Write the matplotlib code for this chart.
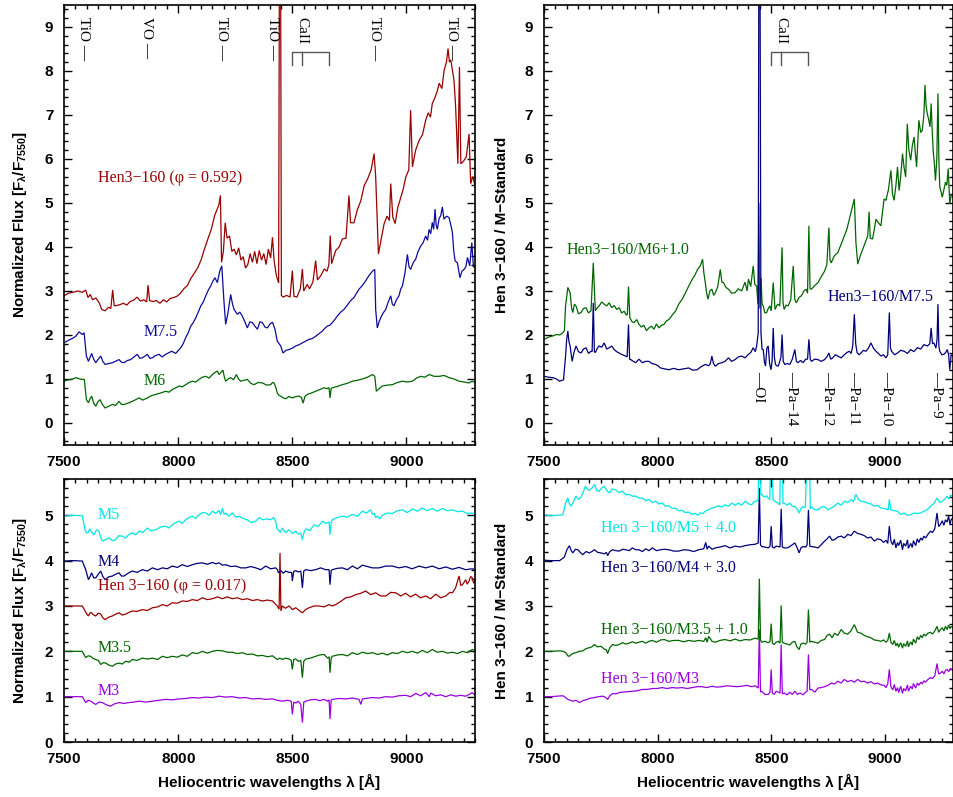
"""Hen 3-160 red spectra: standards (left) and ratios (right)."""
import numpy as np
import matplotlib
matplotlib.use("Agg")
import matplotlib.pyplot as plt
from matplotlib.ticker import FuncFormatter, MultipleLocator

RED = "#990000"
BLUE = "#0c0c9c"
NAVY = "#00007a"
GREEN = "#006600"
CYAN = "#00e6e6"
PURPLE = "#9a00dd"
GREY = "#555555"
SANS = "Liberation Sans"
SERIF = ["Liberation Serif", "DejaVu Serif"]

# ---- top left: Hen 3-160 (phi=0.592), M7.5, M6 --------------------------------
HEN_592 = [(7500,2.89),(7520,2.95),(7540,2.97),(7560,3.00),(7580,2.97),(7595,3.02),(7605,2.85),(7615,2.92),(7625,2.80),(7640,2.84),(7655,2.72),(7665,2.58),(7680,2.55),(7695,2.63),(7705,2.60),(7713,3.02),(7720,2.66),(7740,2.68),(7760,2.72),(7775,2.68),(7790,2.76),(7805,2.79),(7820,2.86),(7835,2.77),(7850,2.80),(7862,2.75),(7868,3.13),(7875,2.78),(7890,2.76),(7905,2.78),(7920,2.72),(7935,2.80),(7950,2.75),(7965,2.83),(7980,2.85),(7995,2.88),(8010,2.95),(8025,3.05),(8040,3.12),(8055,3.28),(8070,3.40),(8085,3.52),(8100,3.70),(8115,3.95),(8130,4.18),(8145,4.40),(8160,4.72),(8170,4.85),(8178,4.95),(8185,5.17),(8190,3.65),(8198,3.90),(8206,4.55),(8214,4.20),(8225,4.25),(8235,3.90),(8245,3.95),(8255,3.82),(8265,3.98),(8275,3.70),(8285,3.78),(8295,3.52),(8305,3.60),(8315,3.85),(8325,3.65),(8335,3.90),(8345,3.62),(8355,3.92),(8365,3.70),(8375,3.85),(8385,3.60),(8395,3.95),(8405,3.75),(8413,4.22),(8420,3.70),(8430,3.35),(8440,3.18),(8444,12.0),(8448,12.0),(8452,2.90),(8460,2.86),(8475,2.90),(8490,2.86),(8500,3.46),(8507,2.88),(8520,2.86),(8535,3.05),(8544,3.50),(8550,3.00),(8565,3.15),(8575,3.05),(8590,3.20),(8602,3.69),(8610,3.25),(8625,3.35),(8640,3.50),(8652,3.45),(8660,3.60),(8666,4.26),(8672,3.62),(8690,3.92),(8705,4.00),(8719,4.18),(8735,4.20),(8748,5.17),(8755,4.55),(8770,4.55),(8785,4.85),(8800,5.05),(8815,5.40),(8830,5.55),(8845,5.75),(8858,6.12),(8865,5.60),(8877,3.84),(8890,4.20),(8902,4.53),(8915,4.70),(8925,4.60),(8931,5.44),(8940,4.68),(8950,4.53),(8962,4.90),(8975,5.13),(8985,5.30),(8997,5.59),(9010,5.75),(9018,7.11),(9026,5.82),(9040,6.20),(9055,6.42),(9070,6.55),(9084,6.88),(9095,7.05),(9105,6.95),(9113,7.26),(9125,7.40),(9135,7.55),(9143,7.72),(9155,7.60),(9165,8.02),(9175,8.20),(9182,8.51),(9188,8.20),(9194,8.25),(9200,8.05),(9208,7.79),(9215,7.20),(9219,6.65),(9225,5.89),(9232,8.09),(9238,5.89),(9250,5.95),(9262,6.05),(9274,6.57),(9281,5.44),(9290,5.60),(9300,5.40)]

M75_STD = [(7500,1.82),(7520,1.88),(7540,1.93),(7551,1.97),(7566,2.07),(7580,2.01),(7588,2.05),(7598,1.52),(7607,1.40),(7621,1.58),(7630,1.45),(7639,1.37),(7650,1.45),(7661,1.52),(7670,1.40),(7680,1.33),(7695,1.35),(7712,1.37),(7725,1.40),(7741,1.44),(7752,1.38),(7763,1.37),(7778,1.42),(7792,1.44),(7806,1.50),(7821,1.56),(7832,1.47),(7843,1.48),(7855,1.52),(7865,1.56),(7876,1.47),(7887,1.48),(7900,1.53),(7916,1.56),(7930,1.50),(7945,1.56),(7960,1.60),(7972,1.63),(7989,1.58),(8011,1.71),(8022,1.80),(8033,1.94),(8044,2.05),(8055,2.20),(8066,2.28),(8077,2.39),(8088,2.52),(8099,2.66),(8110,2.75),(8121,2.89),(8132,3.02),(8142,3.11),(8152,3.22),(8161,3.30),(8172,3.19),(8182,3.45),(8191,3.57),(8200,2.80),(8208,2.24),(8218,2.50),(8230,2.92),(8238,2.70),(8245,2.58),(8259,2.47),(8270,2.52),(8281,2.43),(8292,2.30),(8303,2.16),(8314,2.30),(8325,2.28),(8336,2.20),(8347,2.13),(8358,2.30),(8369,2.28),(8380,2.18),(8391,2.16),(8402,2.25),(8413,2.29),(8424,2.13),(8434,1.86),(8442,1.80),(8449,1.75),(8459,1.59),(8472,1.65),(8486,1.67),(8500,1.70),(8515,1.75),(8530,1.78),(8544,1.82),(8558,1.86),(8573,1.90),(8588,1.92),(8602,1.97),(8617,2.03),(8632,2.09),(8642,2.15),(8653,2.20),(8664,2.22),(8675,2.28),(8686,2.35),(8697,2.43),(8712,2.52),(8726,2.58),(8737,2.65),(8748,2.73),(8759,2.80),(8770,2.85),(8781,2.95),(8792,3.04),(8806,3.12),(8821,3.23),(8836,3.35),(8851,3.45),(8861,3.49),(8865,2.58),(8872,2.16),(8880,2.30),(8887,2.39),(8898,2.50),(8909,2.58),(8920,2.75),(8931,2.89),(8938,2.70),(8945,2.66),(8956,2.80),(8967,2.89),(8975,3.05),(8982,3.11),(8993,3.40),(9004,3.83),(9011,3.55),(9018,3.49),(9030,3.65),(9040,3.72),(9051,3.90),(9062,4.02),(9073,4.10),(9084,4.25),(9092,4.15),(9099,4.40),(9106,4.30),(9113,4.56),(9119,4.40),(9125,4.86),(9130,4.50),(9135,4.40),(9143,4.65),(9150,4.71),(9157,4.91),(9164,4.63),(9175,4.70),(9186,4.67),(9194,4.50),(9201,4.33),(9207,3.90),(9213,3.68),(9223,3.64),(9229,3.45),(9234,3.30),(9243,3.45),(9252,3.49),(9260,3.55),(9267,3.76),(9277,3.57),(9286,4.10),(9293,3.55),(9300,3.53)]

M6_STD = [(7500,0.95),(7520,0.98),(7540,1.00),(7551,1.03),(7570,1.00),(7580,0.99),(7589,0.99),(7598,0.53),(7607,0.46),(7614,0.55),(7621,0.61),(7630,0.45),(7639,0.38),(7648,0.48),(7658,0.53),(7668,0.42),(7680,0.34),(7695,0.38),(7712,0.42),(7726,0.40),(7741,0.49),(7752,0.42),(7763,0.42),(7780,0.45),(7799,0.49),(7814,0.53),(7829,0.57),(7845,0.52),(7865,0.57),(7883,0.62),(7902,0.65),(7923,0.68),(7945,0.72),(7960,0.70),(7974,0.76),(7990,0.80),(8004,0.84),(8018,0.82),(8033,0.87),(8048,0.92),(8062,0.95),(8077,0.93),(8091,0.99),(8106,1.04),(8121,1.06),(8135,1.02),(8150,1.10),(8162,1.15),(8172,1.18),(8179,1.10),(8186,1.14),(8196,1.20),(8202,1.05),(8208,0.95),(8220,1.00),(8230,1.03),(8242,0.98),(8255,1.10),(8264,1.00),(8274,0.95),(8288,0.97),(8303,0.99),(8318,0.90),(8332,0.87),(8350,0.92),(8369,0.91),(8387,0.86),(8405,0.87),(8413,0.92),(8420,0.91),(8428,0.80),(8434,0.68),(8441,0.63),(8449,0.61),(8460,0.57),(8471,0.55),(8485,0.60),(8500,0.57),(8515,0.60),(8529,0.61),(8540,0.58),(8547,0.45),(8555,0.60),(8566,0.65),(8583,0.68),(8602,0.72),(8620,0.76),(8639,0.80),(8650,0.78),(8661,0.80),(8665,0.57),(8670,0.78),(8675,0.80),(8697,0.83),(8719,0.87),(8740,0.90),(8763,0.95),(8785,0.97),(8807,1.00),(8829,1.04),(8851,1.10),(8861,1.06),(8868,0.72),(8880,0.78),(8894,0.84),(8916,0.86),(8938,0.87),(8960,0.92),(8982,0.95),(9004,0.93),(9026,0.95),(9044,1.02),(9062,1.06),(9080,1.04),(9099,1.10),(9121,1.06),(9143,1.06),(9165,1.08),(9186,1.03),(9208,1.00),(9230,0.95),(9252,0.93),(9274,0.91),(9288,0.95),(9300,0.92)]

# ---- top right: ratios -------------------------------------------------------
RATIO_M6 = [(7500,1.90),(7520,1.95),(7540,1.98),(7554,2.01),(7570,2.00),(7583,2.05),(7590,2.10),(7595,2.66),(7605,3.08),(7615,2.96),(7622,2.60),(7627,2.51),(7634,2.70),(7641,2.66),(7652,2.48),(7663,2.51),(7674,2.60),(7685,2.62),(7696,2.50),(7707,2.55),(7717,3.64),(7726,2.55),(7735,2.62),(7743,2.66),(7754,2.75),(7765,2.70),(7776,2.66),(7787,2.73),(7798,2.62),(7809,2.67),(7820,2.58),(7831,2.62),(7842,2.50),(7853,2.54),(7862,2.45),(7867,2.47),(7872,3.10),(7878,2.39),(7888,2.30),(7897,2.28),(7908,2.35),(7918,2.24),(7929,2.18),(7940,2.22),(7951,2.10),(7962,2.16),(7973,2.20),(7984,2.13),(7995,2.25),(8006,2.16),(8017,2.22),(8028,2.24),(8039,2.32),(8050,2.35),(8064,2.45),(8079,2.54),(8093,2.70),(8108,2.81),(8122,2.95),(8137,3.11),(8151,3.25),(8166,3.38),(8177,3.50),(8188,3.57),(8198,3.72),(8204,3.40),(8210,3.19),(8216,2.95),(8222,2.81),(8230,3.00),(8239,3.04),(8247,2.90),(8254,2.96),(8265,3.10),(8276,3.49),(8283,3.20),(8290,3.19),(8301,3.08),(8312,3.04),(8326,2.95),(8341,2.96),(8355,3.05),(8370,3.00),(8385,3.20),(8394,3.00),(8400,3.27),(8410,3.10),(8421,3.57),(8428,3.15),(8436,3.11),(8442,2.70),(8446,5.00),(8450,2.60),(8455,3.30),(8460,2.70),(8465,2.66),(8472,2.50),(8480,2.51),(8487,2.60),(8494,2.66),(8500,2.55),(8509,3.19),(8517,2.58),(8528,2.70),(8538,2.66),(8548,3.99),(8552,2.75),(8557,2.58),(8566,2.68),(8575,2.66),(8586,2.80),(8597,3.57),(8604,2.80),(8611,2.73),(8622,2.85),(8633,2.89),(8644,3.00),(8655,3.04),(8660,2.95),(8666,4.48),(8671,3.05),(8677,3.04),(8691,3.12),(8706,3.19),(8720,3.32),(8735,3.45),(8745,3.60),(8754,4.44),(8759,3.70),(8764,3.64),(8778,3.80),(8793,3.87),(8807,4.05),(8822,4.25),(8833,4.40),(8844,4.63),(8852,4.80),(8859,4.94),(8866,5.09),(8870,4.50),(8873,4.10),(8881,3.61),(8892,3.80),(8903,3.95),(8914,4.10),(8925,4.25),(8931,4.80),(8936,4.20),(8946,4.18),(8954,4.40),(8961,4.63),(8972,4.55),(8983,4.48),(8990,4.80),(8997,5.09),(9005,5.06),(9016,5.30),(9027,5.74),(9034,5.20),(9041,5.06),(9049,5.40),(9056,5.82),(9063,5.28),(9070,5.60),(9078,6.12),(9085,5.80),(9092,5.59),(9099,6.80),(9106,6.20),(9114,5.97),(9121,6.30),(9129,6.50),(9135,6.10),(9140,5.82),(9150,6.88),(9158,6.60),(9165,6.65),(9172,7.00),(9177,7.68),(9182,7.20),(9187,7.03),(9193,6.90),(9199,6.73),(9204,7.26),(9209,6.60),(9213,6.19),(9218,5.90),(9223,5.51),(9229,6.00),(9234,7.49),(9238,6.00),(9242,5.36),(9248,5.25),(9253,5.13),(9260,5.30),(9267,5.47),(9273,5.40),(9279,5.78),(9286,4.98),(9293,5.20),(9300,5.13)]

RATIO_M75 = [(7500,1.06),(7520,1.04),(7539,1.03),(7555,1.00),(7568,0.95),(7580,0.97),(7586,0.98),(7595,1.52),(7600,1.90),(7605,2.09),(7610,1.85),(7615,1.75),(7624,1.40),(7632,1.60),(7641,1.75),(7652,1.62),(7663,1.59),(7674,1.68),(7685,1.71),(7696,1.58),(7707,1.63),(7712,1.62),(7717,2.73),(7722,1.62),(7726,1.60),(7735,1.70),(7743,1.75),(7754,1.72),(7765,1.82),(7776,1.68),(7787,1.71),(7798,1.75),(7809,1.67),(7820,1.62),(7831,1.59),(7845,1.55),(7860,1.52),(7866,1.50),(7872,2.24),(7877,1.45),(7882,1.44),(7893,1.40),(7904,1.37),(7918,1.45),(7933,1.37),(7948,1.40),(7962,1.40),(7976,1.35),(7991,1.33),(8002,1.30),(8013,1.25),(8030,1.23),(8050,1.21),(8070,1.24),(8093,1.21),(8115,1.23),(8137,1.25),(8155,1.20),(8174,1.21),(8192,1.28),(8210,1.33),(8225,1.30),(8232,1.35),(8239,1.52),(8246,1.35),(8254,1.29),(8268,1.35),(8283,1.37),(8297,1.40),(8312,1.48),(8326,1.40),(8341,1.44),(8355,1.50),(8370,1.52),(8385,1.48),(8400,1.56),(8410,1.60),(8421,1.71),(8430,1.62),(8436,1.75),(8443,2.05),(8446,12.0),(8450,12.0),(8455,2.05),(8460,1.67),(8465,1.67),(8470,1.40),(8475,1.29),(8481,1.70),(8487,1.75),(8493,1.35),(8499,1.21),(8504,1.40),(8509,2.16),(8514,1.50),(8519,1.33),(8525,1.30),(8531,1.29),(8538,1.40),(8543,1.50),(8548,2.01),(8553,1.40),(8560,1.33),(8571,1.35),(8582,1.33),(8593,1.45),(8604,1.67),(8611,1.40),(8618,1.37),(8629,1.42),(8640,1.37),(8652,1.45),(8660,1.45),(8666,1.90),(8672,1.45),(8677,1.40),(8692,1.45),(8706,1.44),(8720,1.40),(8735,1.44),(8745,1.50),(8754,1.59),(8762,1.45),(8771,1.48),(8782,1.55),(8793,1.52),(8808,1.48),(8822,1.55),(8833,1.60),(8844,1.63),(8852,1.58),(8859,1.75),(8866,2.47),(8872,1.80),(8878,1.60),(8887,1.55),(8895,1.59),(8906,1.65),(8917,1.63),(8928,1.70),(8939,1.82),(8950,1.70),(8961,1.63),(8972,1.58),(8983,1.52),(8994,1.55),(9005,1.48),(9013,1.55),(9020,2.51),(9025,1.70),(9030,1.63),(9043,1.55),(9056,1.59),(9070,1.65),(9085,1.63),(9100,1.58),(9114,1.67),(9128,1.62),(9143,1.71),(9158,1.68),(9172,1.78),(9188,1.75),(9198,1.80),(9204,2.16),(9210,1.80),(9216,1.82),(9225,1.70),(9230,1.90),(9234,2.70),(9238,1.75),(9242,1.63),(9251,1.55),(9260,1.56),(9268,1.60),(9275,1.67),(9281,1.55),(9286,1.21),(9292,1.55),(9300,1.52)]

# ---- bottom left: Hen 3-160 (phi=0.017) and M3-M5 standards --------------------
M5_STD = [(7500,4.98),(7540,5.00),(7580,4.99),(7592,4.68),(7599,4.61),(7606,4.62),(7612,4.70),(7622,4.62),(7631,4.57),(7642,4.68),(7653,4.65),(7660,4.52),(7668,4.43),(7680,4.46),(7697,4.50),(7712,4.44),(7726,4.46),(7740,4.55),(7756,4.54),(7770,4.50),(7785,4.58),(7799,4.61),(7814,4.57),(7829,4.65),(7845,4.62),(7865,4.72),(7880,4.66),(7902,4.68),(7923,4.74),(7945,4.76),(7960,4.72),(7974,4.79),(7990,4.84),(8004,4.87),(8018,4.82),(8033,4.90),(8048,4.95),(8062,4.98),(8077,4.93),(8091,5.01),(8106,5.06),(8121,5.05),(8135,5.00),(8150,5.09),(8165,5.04),(8179,5.11),(8186,5.01),(8194,5.16),(8201,5.02),(8208,5.05),(8222,4.98),(8237,5.05),(8252,4.96),(8267,4.98),(8285,4.93),(8303,4.90),(8320,4.84),(8340,4.87),(8355,4.95),(8369,4.90),(8387,4.92),(8405,4.90),(8418,4.95),(8427,4.87),(8433,4.70),(8439,4.68),(8447,4.62),(8456,4.72),(8470,4.62),(8486,4.68),(8500,4.60),(8515,4.65),(8526,4.58),(8537,4.61),(8544,4.46),(8551,4.62),(8559,4.70),(8577,4.66),(8595,4.79),(8613,4.75),(8632,4.87),(8647,4.82),(8661,4.85),(8665,4.57),(8670,4.85),(8675,4.90),(8697,4.95),(8719,4.98),(8741,4.96),(8763,5.02),(8785,4.98),(8807,5.09),(8825,5.05),(8843,5.12),(8851,5.02),(8858,5.05),(8865,4.95),(8872,4.98),(8883,4.92),(8894,5.00),(8916,5.05),(8938,5.04),(8960,5.10),(8982,5.12),(9004,5.06),(9026,5.14),(9048,5.09),(9069,5.16),(9091,5.10),(9113,5.15),(9135,5.09),(9157,5.15),(9179,5.10),(9201,5.12),(9223,5.08),(9245,5.09),(9266,5.04),(9288,5.05),(9300,5.02)]

M4_STD = [(7500,3.99),(7540,4.00),(7580,3.99),(7595,3.80),(7607,3.58),(7614,3.65),(7621,3.73),(7630,3.62),(7639,3.62),(7650,3.70),(7661,3.77),(7670,3.65),(7680,3.58),(7695,3.64),(7712,3.66),(7726,3.70),(7741,3.73),(7752,3.66),(7763,3.66),(7780,3.72),(7799,3.77),(7820,3.74),(7843,3.80),(7865,3.77),(7887,3.84),(7910,3.80),(7931,3.84),(7952,3.82),(7974,3.88),(7996,3.85),(8018,3.91),(8040,3.87),(8062,3.91),(8084,3.94),(8106,3.95),(8128,3.92),(8150,3.96),(8165,3.93),(8179,3.95),(8194,3.90),(8208,3.91),(8230,3.87),(8252,3.88),(8274,3.84),(8296,3.84),(8318,3.87),(8340,3.84),(8362,3.80),(8383,3.88),(8405,3.82),(8427,3.84),(8435,3.80),(8439,3.73),(8450,3.78),(8460,3.72),(8471,3.77),(8485,3.74),(8497,3.74),(8500,3.55),(8506,3.76),(8515,3.78),(8526,3.75),(8537,3.77),(8544,3.40),(8550,3.77),(8559,3.80),(8580,3.78),(8602,3.80),(8624,3.84),(8646,3.80),(8661,3.80),(8665,3.47),(8670,3.78),(8675,3.80),(8697,3.83),(8719,3.84),(8741,3.80),(8763,3.88),(8785,3.82),(8807,3.90),(8821,3.88),(8850,3.84),(8880,3.84),(8909,3.88),(8938,3.88),(8967,3.84),(8996,3.87),(9025,3.82),(9055,3.88),(9084,3.84),(9113,3.88),(9143,3.82),(9172,3.86),(9201,3.81),(9230,3.85),(9259,3.80),(9288,3.82),(9300,3.80)]

HEN_017 = [(7500,3.00),(7540,3.00),(7580,3.00),(7592,2.89),(7600,2.82),(7607,2.78),(7614,2.85),(7621,2.85),(7630,2.80),(7639,2.78),(7650,2.84),(7661,2.82),(7670,2.74),(7680,2.70),(7695,2.75),(7712,2.78),(7726,2.82),(7741,2.85),(7755,2.80),(7770,2.82),(7785,2.86),(7799,2.89),(7820,2.88),(7843,2.92),(7865,2.90),(7887,2.96),(7910,2.98),(7931,3.03),(7952,3.00),(7974,3.07),(7996,3.06),(8018,3.11),(8040,3.10),(8062,3.14),(8084,3.12),(8106,3.18),(8128,3.14),(8150,3.16),(8172,3.20),(8194,3.16),(8215,3.20),(8237,3.16),(8259,3.18),(8281,3.14),(8303,3.16),(8325,3.12),(8347,3.14),(8369,3.11),(8391,3.13),(8413,3.11),(8425,3.05),(8434,3.00),(8442,2.93),(8446,4.17),(8450,2.89),(8456,3.00),(8470,2.95),(8486,3.00),(8500,2.92),(8515,2.96),(8530,2.90),(8544,2.85),(8558,2.92),(8573,2.96),(8595,3.00),(8617,3.00),(8639,2.98),(8661,3.03),(8675,3.00),(8690,3.03),(8712,3.10),(8734,3.18),(8756,3.20),(8778,3.25),(8800,3.28),(8821,3.33),(8843,3.25),(8865,3.29),(8887,3.22),(8909,3.22),(8931,3.30),(8953,3.29),(8975,3.22),(8996,3.28),(9018,3.20),(9040,3.26),(9062,3.18),(9084,3.22),(9106,3.16),(9128,3.26),(9150,3.18),(9172,3.22),(9190,3.30),(9201,3.29),(9215,3.40),(9230,3.66),(9238,3.45),(9245,3.47),(9252,3.52),(9259,3.58),(9266,3.48),(9274,3.55),(9281,3.65),(9288,3.62),(9294,3.50),(9300,3.55)]

M35_STD = [(7500,2.00),(7540,2.00),(7580,2.00),(7595,1.86),(7606,1.90),(7617,1.89),(7628,1.84),(7639,1.82),(7650,1.80),(7661,1.71),(7672,1.75),(7683,1.74),(7695,1.70),(7712,1.67),(7726,1.72),(7741,1.74),(7755,1.72),(7770,1.78),(7785,1.76),(7799,1.82),(7820,1.80),(7843,1.85),(7865,1.83),(7887,1.85),(7910,1.82),(7931,1.89),(7952,1.86),(7974,1.89),(7996,1.87),(8018,1.92),(8040,1.89),(8062,1.97),(8084,1.95),(8106,2.00),(8128,1.96),(8150,2.00),(8172,2.02),(8194,2.01),(8215,1.98),(8237,1.98),(8259,1.95),(8281,1.97),(8303,1.93),(8325,1.94),(8347,1.90),(8369,1.91),(8391,1.88),(8413,1.90),(8434,1.82),(8445,1.85),(8456,1.82),(8470,1.85),(8486,1.83),(8495,1.80),(8500,1.60),(8506,1.82),(8515,1.83),(8526,1.78),(8537,1.80),(8544,1.42),(8550,1.78),(8559,1.83),(8580,1.85),(8602,1.89),(8620,1.92),(8639,1.93),(8655,1.85),(8661,1.88),(8665,1.53),(8670,1.85),(8675,1.89),(8697,1.92),(8719,1.93),(8741,1.90),(8763,1.97),(8785,1.93),(8807,1.98),(8829,1.95),(8851,1.97),(8873,1.93),(8894,1.96),(8916,1.92),(8938,1.97),(8960,1.95),(8982,2.00),(9004,1.97),(9026,2.00),(9048,1.96),(9069,2.02),(9091,1.97),(9113,2.04),(9135,1.98),(9157,2.00),(9179,1.96),(9201,1.98),(9223,1.95),(9245,2.00),(9266,1.97),(9288,2.04),(9300,2.02)]

M3_STD = [(7500,1.00),(7540,1.00),(7580,1.00),(7595,0.87),(7606,0.92),(7617,0.90),(7628,0.86),(7639,0.83),(7653,0.88),(7668,0.87),(7685,0.82),(7704,0.79),(7720,0.84),(7741,0.87),(7762,0.85),(7785,0.87),(7805,0.88),(7829,0.90),(7858,0.88),(7887,0.90),(7915,0.92),(7945,0.94),(7975,0.93),(8004,0.95),(8033,0.96),(8062,0.98),(8092,0.97),(8121,0.99),(8150,0.98),(8179,1.01),(8208,0.99),(8237,1.00),(8266,0.97),(8296,0.98),(8325,0.95),(8354,0.96),(8383,0.94),(8413,0.95),(8434,0.92),(8456,0.90),(8478,0.92),(8495,0.90),(8500,0.61),(8506,0.88),(8515,0.86),(8526,0.90),(8537,0.83),(8544,0.43),(8550,0.88),(8559,0.90),(8580,0.93),(8602,0.94),(8620,0.91),(8639,0.94),(8655,0.90),(8661,0.93),(8665,0.51),(8670,0.92),(8675,0.94),(8704,0.96),(8734,0.95),(8763,0.97),(8792,0.94),(8800,0.83),(8807,0.95),(8821,0.96),(8850,0.98),(8880,0.97),(8909,1.00),(8938,0.99),(8967,1.02),(8996,1.03),(9018,1.00),(9040,1.07),(9062,1.02),(9084,1.09),(9100,1.00),(9106,1.08),(9128,1.02),(9150,1.04),(9172,1.00),(9194,1.04),(9216,1.01),(9237,1.03),(9259,1.01),(9275,1.05),(9288,1.09),(9300,1.03)]

# ---- bottom right: ratios to M3-M5 --------------------------------------------
RATIO_M5 = [(7500,5.01),(7530,4.99),(7554,5.00),(7583,5.01),(7595,5.27),(7605,5.38),(7612,5.25),(7620,5.20),(7630,5.30),(7641,5.42),(7652,5.35),(7663,5.40),(7672,5.50),(7682,5.64),(7690,5.58),(7700,5.55),(7711,5.60),(7722,5.68),(7732,5.55),(7743,5.53),(7754,5.60),(7765,5.64),(7776,5.55),(7787,5.49),(7800,5.58),(7816,5.56),(7830,5.50),(7846,5.53),(7860,5.45),(7875,5.46),(7890,5.42),(7904,5.42),(7918,5.38),(7933,5.38),(7948,5.32),(7962,5.35),(7976,5.28),(7991,5.31),(8005,5.25),(8020,5.27),(8035,5.20),(8050,5.21),(8064,5.15),(8079,5.16),(8093,5.10),(8108,5.11),(8122,5.06),(8137,5.07),(8152,5.02),(8166,5.04),(8177,5.00),(8188,5.05),(8199,5.04),(8210,5.09),(8225,5.12),(8239,5.16),(8254,5.18),(8268,5.21),(8283,5.18),(8297,5.23),(8312,5.20),(8327,5.27),(8341,5.22),(8356,5.27),(8370,5.22),(8385,5.31),(8400,5.25),(8414,5.23),(8425,5.30),(8436,5.31),(8443,5.35),(8447,7.0),(8451,7.0),(8455,5.45),(8458,5.46),(8470,5.40),(8480,5.43),(8487,5.38),(8494,5.35),(8499,7.0),(8503,7.0),(8508,5.35),(8516,5.31),(8527,5.28),(8538,5.23),(8543,7.0),(8547,7.0),(8552,5.26),(8557,5.27),(8570,5.22),(8582,5.27),(8593,5.20),(8604,5.19),(8613,5.15),(8623,5.05),(8631,5.15),(8640,5.19),(8650,5.17),(8663,7.0),(8667,7.0),(8672,5.14),(8677,5.19),(8692,5.12),(8706,5.12),(8720,5.18),(8735,5.19),(8750,5.12),(8764,5.16),(8778,5.20),(8793,5.27),(8808,5.22),(8822,5.31),(8837,5.28),(8852,5.35),(8862,5.30),(8873,5.46),(8884,5.35),(8895,5.31),(8910,5.30),(8924,5.27),(8939,5.25),(8954,5.20),(8968,5.22),(8983,5.16),(9000,5.15),(9015,5.12),(9020,5.35),(9027,5.12),(9042,5.10),(9056,5.09),(9070,5.02),(9085,5.05),(9100,5.00),(9114,5.01),(9128,5.05),(9143,5.04),(9158,5.05),(9172,5.09),(9186,5.12),(9201,5.20),(9215,5.25),(9230,5.38),(9242,5.28),(9253,5.31),(9263,5.35),(9274,5.42),(9282,5.36),(9289,5.45),(9300,5.40)]

RATIO_M4 = [(7500,4.01),(7530,4.00),(7569,4.00),(7590,4.08),(7601,4.24),(7612,4.33),(7620,4.22),(7627,4.17),(7638,4.25),(7649,4.24),(7660,4.18),(7671,4.13),(7685,4.20),(7700,4.17),(7711,4.20),(7722,4.24),(7737,4.18),(7751,4.17),(7765,4.15),(7775,4.18),(7780,4.11),(7790,4.20),(7802,4.24),(7816,4.22),(7831,4.21),(7846,4.25),(7860,4.24),(7875,4.22),(7889,4.28),(7904,4.24),(7918,4.24),(7933,4.20),(7948,4.26),(7962,4.22),(7977,4.28),(7995,4.22),(8013,4.24),(8030,4.25),(8050,4.24),(8071,4.21),(8093,4.21),(8115,4.24),(8137,4.23),(8159,4.20),(8181,4.24),(8203,4.26),(8212,4.40),(8218,4.25),(8225,4.32),(8240,4.25),(8254,4.28),(8275,4.30),(8297,4.33),(8319,4.28),(8341,4.32),(8363,4.30),(8385,4.33),(8407,4.35),(8429,4.36),(8443,4.39),(8448,5.60),(8453,4.35),(8458,4.31),(8472,4.30),(8487,4.28),(8495,4.32),(8500,4.76),(8505,4.30),(8513,4.28),(8522,4.32),(8531,4.31),(8539,4.30),(8544,5.14),(8549,4.30),(8557,4.28),(8570,4.28),(8582,4.31),(8593,4.35),(8604,4.39),(8613,4.30),(8623,4.17),(8631,4.28),(8640,4.31),(8652,4.30),(8658,4.35),(8664,5.12),(8670,4.32),(8677,4.31),(8692,4.30),(8706,4.28),(8720,4.35),(8735,4.43),(8746,4.48),(8757,4.54),(8768,4.45),(8779,4.46),(8793,4.52),(8808,4.54),(8822,4.50),(8837,4.58),(8851,4.55),(8866,4.65),(8880,4.60),(8895,4.58),(8910,4.55),(8924,4.50),(8939,4.52),(8954,4.43),(8968,4.48),(8983,4.46),(8995,4.40),(9005,4.45),(9013,4.38),(9020,4.76),(9027,4.43),(9035,4.35),(9042,4.47),(9049,4.28),(9056,4.40),(9061,4.33),(9070,4.45),(9078,4.24),(9083,4.38),(9092,4.32),(9100,4.46),(9104,4.27),(9114,4.38),(9121,4.29),(9126,4.44),(9136,4.33),(9143,4.48),(9150,4.40),(9158,4.50),(9165,4.45),(9172,4.54),(9180,4.50),(9190,4.58),(9201,4.65),(9210,4.62),(9220,4.70),(9230,5.05),(9237,4.75),(9245,4.80),(9253,4.88),(9260,4.78),(9267,4.90),(9274,4.85),(9281,4.98),(9287,4.80),(9292,4.90),(9300,4.95)]

RATIO_M35 = [(7500,2.00),(7530,2.00),(7569,2.01),(7585,2.00),(7598,1.96),(7605,1.90),(7612,1.89),(7620,1.93),(7630,1.96),(7641,1.97),(7655,2.00),(7671,2.01),(7685,2.06),(7700,2.08),(7711,2.10),(7722,2.15),(7735,2.10),(7751,2.11),(7765,2.05),(7775,2.03),(7780,1.95),(7790,2.08),(7802,2.15),(7816,2.13),(7831,2.15),(7846,2.19),(7860,2.16),(7875,2.18),(7889,2.21),(7904,2.18),(7918,2.20),(7933,2.22),(7948,2.18),(7962,2.22),(7977,2.24),(7995,2.20),(8013,2.25),(8030,2.26),(8050,2.22),(8071,2.24),(8093,2.24),(8115,2.21),(8137,2.24),(8159,2.22),(8181,2.24),(8203,2.22),(8212,2.30),(8218,2.20),(8225,2.33),(8240,2.22),(8254,2.20),(8275,2.24),(8297,2.26),(8319,2.23),(8341,2.27),(8363,2.23),(8385,2.26),(8407,2.25),(8429,2.29),(8443,2.27),(8448,3.60),(8453,2.25),(8458,2.20),(8472,2.22),(8487,2.19),(8495,2.22),(8500,2.61),(8505,2.18),(8513,2.15),(8522,2.20),(8531,2.22),(8539,2.18),(8544,3.01),(8549,2.20),(8557,2.18),(8570,2.16),(8582,2.14),(8593,2.20),(8604,2.22),(8613,2.10),(8623,2.04),(8631,2.16),(8640,2.18),(8652,2.16),(8658,2.20),(8664,2.92),(8670,2.20),(8677,2.22),(8692,2.20),(8706,2.18),(8720,2.24),(8735,2.26),(8746,2.35),(8757,2.38),(8768,2.30),(8779,2.40),(8793,2.35),(8808,2.48),(8822,2.40),(8837,2.38),(8851,2.45),(8866,2.59),(8880,2.42),(8895,2.40),(8910,2.35),(8924,2.32),(8939,2.30),(8954,2.25),(8968,2.24),(8983,2.22),(8995,2.25),(9005,2.20),(9013,2.24),(9020,2.40),(9027,2.20),(9035,2.15),(9042,2.24),(9049,2.12),(9056,2.18),(9061,2.09),(9070,2.19),(9078,2.07),(9083,2.17),(9092,2.11),(9100,2.23),(9104,2.10),(9114,2.21),(9121,2.14),(9126,2.27),(9136,2.18),(9143,2.32),(9150,2.26),(9158,2.35),(9165,2.30),(9172,2.38),(9180,2.34),(9190,2.40),(9201,2.42),(9210,2.38),(9220,2.45),(9230,2.55),(9237,2.42),(9245,2.48),(9253,2.52),(9260,2.45),(9267,2.55),(9274,2.48),(9281,2.58),(9287,2.50),(9292,2.55),(9300,2.52)]

RATIO_M3 = [(7500,1.00),(7530,1.00),(7560,1.01),(7583,1.02),(7595,0.98),(7605,0.94),(7616,0.92),(7627,0.90),(7641,0.92),(7656,0.87),(7670,0.91),(7685,0.93),(7700,0.96),(7722,0.98),(7740,1.00),(7758,1.01),(7770,0.99),(7780,0.94),(7790,1.02),(7802,1.07),(7816,1.06),(7831,1.09),(7846,1.10),(7868,1.11),(7889,1.12),(7911,1.13),(7933,1.16),(7955,1.16),(7977,1.18),(7998,1.18),(8020,1.20),(8042,1.18),(8064,1.20),(8086,1.19),(8108,1.20),(8130,1.18),(8152,1.20),(8174,1.22),(8195,1.22),(8217,1.20),(8239,1.23),(8261,1.21),(8283,1.22),(8305,1.24),(8327,1.23),(8348,1.22),(8370,1.23),(8392,1.25),(8414,1.22),(8430,1.24),(8443,1.19),(8448,2.48),(8453,1.10),(8458,1.12),(8472,1.05),(8487,1.05),(8495,1.10),(8500,1.60),(8505,1.08),(8513,1.05),(8522,1.12),(8531,1.10),(8539,1.08),(8544,2.15),(8549,1.06),(8557,1.08),(8570,1.04),(8582,1.10),(8593,1.05),(8604,1.12),(8615,1.05),(8627,1.08),(8640,1.04),(8652,1.10),(8658,1.12),(8664,1.93),(8670,1.15),(8677,1.16),(8692,1.10),(8706,1.19),(8720,1.20),(8735,1.22),(8750,1.25),(8764,1.30),(8779,1.28),(8793,1.34),(8808,1.30),(8822,1.38),(8837,1.33),(8852,1.36),(8866,1.32),(8881,1.38),(8895,1.33),(8910,1.34),(8924,1.30),(8939,1.33),(8954,1.28),(8968,1.30),(8983,1.26),(8997,1.25),(9005,1.20),(9013,1.28),(9020,1.60),(9027,1.22),(9035,1.15),(9042,1.27),(9049,1.12),(9056,1.20),(9061,1.09),(9070,1.23),(9078,1.07),(9083,1.18),(9092,1.13),(9100,1.26),(9104,1.12),(9114,1.23),(9121,1.17),(9126,1.29),(9136,1.19),(9143,1.30),(9150,1.25),(9158,1.32),(9165,1.28),(9172,1.35),(9180,1.32),(9190,1.38),(9201,1.42),(9210,1.40),(9220,1.46),(9230,1.73),(9237,1.50),(9245,1.52),(9253,1.56),(9260,1.50),(9267,1.58),(9274,1.60),(9281,1.55),(9289,1.62),(9300,1.58)]

# line identifications
BAND_NAMES = ["TiO", "VO", "TiO", "TiO", "TiO", "TiO"]
BAND_WL = [7586, 7861, 8190, 8411, 8858, 9195]
CAII_WL = [8498, 8542, 8662]
EMIS_NAMES = ["OI", "Pa\u221214", "Pa\u221212", "Pa\u221211", "Pa\u221210", "Pa\u22129"]
EMIS_WL = [8446, 8588, 8747, 8862, 9008, 9227]

YLAB_FLUX = r"Normalized Flux [F$_{\lambda}$/F$_{7550}$]"
YLAB_RATIO = "Hen 3\u2212160 / M\u2212Standard"
XLAB = "Heliocentric wavelengths \u03bb [\u00c5]"

# tick numbers go through mathtext, whose bf face is Liberation Sans Bold
BOLD_NUM = FuncFormatter(lambda v, pos: r"$\mathbf{%g}$" % v)


def _spec(ax, pts, color):
    wl, fx = np.array(pts).T
    ax.plot(wl, fx, color=color, lw=0.9, solid_joinstyle="miter")


def _style(ax, ymin, ymax):
    ax.set_xlim(7500, 9300)
    ax.set_ylim(ymin, ymax)
    ax.xaxis.set_major_locator(MultipleLocator(500))
    ax.xaxis.set_minor_locator(MultipleLocator(50))
    ax.yaxis.set_major_locator(MultipleLocator(1))
    ax.yaxis.set_minor_locator(MultipleLocator(0.2))
    ax.xaxis.set_major_formatter(BOLD_NUM)
    ax.yaxis.set_major_formatter(BOLD_NUM)
    ax.tick_params(which="both", direction="in", top=True, right=True, width=1.0)
    ax.tick_params(which="major", length=6, labelsize=11, pad=7)
    ax.tick_params(which="minor", length=3)
    for s in ax.spines.values():
        s.set_linewidth(1.2)


def _label(ax, x, y, text, color):
    ax.text(x, y, text, color=color, family=SERIF, fontweight="normal",
            fontsize=11.5, ha="center", va="center")


def _ylab(ax, text):
    ax.set_ylabel(text, fontsize=11, fontweight="bold", family=SANS, labelpad=11)


def _xlab(ax):
    ax.set_xlabel(XLAB, fontsize=11, fontweight="bold", family=SANS, labelpad=6)


def _caii(ax):
    lo, hi = 8.13, 8.44
    ax.plot([CAII_WL[0], CAII_WL[0], CAII_WL[2], CAII_WL[2]], [lo, hi, hi, lo],
            color=GREY, lw=1.0)
    ax.plot([CAII_WL[1], CAII_WL[1]], [hi, lo], color=GREY, lw=1.0)
    ax.text(CAII_WL[1], 9.22, "CaII", rotation=270, ha="center", va="top",
            family=SERIF, fontweight="normal", fontsize=11)


def main():
    plt.rcParams["font.family"] = SANS
    plt.rcParams["mathtext.fontset"] = "custom"
    plt.rcParams["mathtext.rm"] = "Liberation Sans:bold"
    plt.rcParams["mathtext.it"] = "Liberation Sans:bold"
    plt.rcParams["mathtext.bf"] = "Liberation Sans:bold"

    fig = plt.figure(figsize=(9.54, 7.97), dpi=100)
    ax_tl = fig.add_axes([0.0671, 0.4417, 0.4308, 0.5521])
    ax_tr = fig.add_axes([0.5702, 0.4417, 0.4287, 0.5521])
    ax_bl = fig.add_axes([0.0671, 0.0690, 0.4308, 0.3300])
    ax_br = fig.add_axes([0.5702, 0.0690, 0.4287, 0.3300])

    # top left
    _spec(ax_tl, M6_STD, GREEN)
    _spec(ax_tl, M75_STD, BLUE)
    _spec(ax_tl, HEN_592, RED)
    _style(ax_tl, -0.5, 9.5)
    for name, wl in zip(BAND_NAMES, BAND_WL):
        ax_tl.text(wl, 9.22, name + " \u2014", rotation=270, ha="center", va="top",
                   family=SERIF, fontweight="normal", fontsize=11)
    _caii(ax_tl)
    _label(ax_tl, 7963, 5.56, "Hen3\u2212160 (\u03c6 = 0.592)", RED)
    _label(ax_tl, 7923, 2.07, "M7.5", BLUE)
    _label(ax_tl, 7897, 0.96, "M6", GREEN)
    _ylab(ax_tl, YLAB_FLUX)

    # top right
    _spec(ax_tr, RATIO_M6, GREEN)
    _spec(ax_tr, RATIO_M75, NAVY)
    _style(ax_tr, -0.5, 9.5)
    _caii(ax_tr)
    for name, wl in zip(EMIS_NAMES, EMIS_WL):
        ax_tr.text(wl, 1.18, "\u2014" + name, rotation=270, ha="center", va="top",
                   family=SERIF, fontweight="normal", fontsize=11)
    _label(ax_tr, 7870, 3.92, "Hen3\u2212160/M6+1.0", GREEN)
    _label(ax_tr, 8981, 2.86, "Hen3\u2212160/M7.5", NAVY)
    _ylab(ax_tr, YLAB_RATIO)

    # bottom left
    _spec(ax_bl, M3_STD, PURPLE)
    _spec(ax_bl, M35_STD, GREEN)
    _spec(ax_bl, HEN_017, RED)
    _spec(ax_bl, M4_STD, NAVY)
    _spec(ax_bl, M5_STD, CYAN)
    _style(ax_bl, 0, 5.8)
    _label(ax_bl, 7696, 5.00, "M5", CYAN)
    _label(ax_bl, 7696, 3.98, "M4", NAVY)
    _label(ax_bl, 7972, 3.44, "Hen 3\u2212160 (\u03c6 = 0.017)", RED)
    _label(ax_bl, 7722, 2.08, "M3.5", GREEN)
    _label(ax_bl, 7696, 1.12, "M3", PURPLE)
    _ylab(ax_bl, YLAB_FLUX)
    _xlab(ax_bl)

    # bottom right
    _spec(ax_br, RATIO_M3, PURPLE)
    _spec(ax_br, RATIO_M35, GREEN)
    _spec(ax_br, RATIO_M4, NAVY)
    _spec(ax_br, RATIO_M5, CYAN)
    _style(ax_br, 0, 5.8)
    _label(ax_br, 8050, 4.72, "Hen 3\u2212160/M5 + 4.0", CYAN)
    _label(ax_br, 8050, 3.83, "Hen 3\u2212160/M4 + 3.0", NAVY)
    _label(ax_br, 8076, 2.48, "Hen 3\u2212160/M3.5 + 1.0", GREEN)
    _label(ax_br, 7968, 1.40, "Hen 3\u2212160/M3", PURPLE)
    _ylab(ax_br, YLAB_RATIO)
    _xlab(ax_br)

    fig.savefig("out.png", dpi=100)
    plt.close(fig)


if __name__ == "__main__":
    main()
